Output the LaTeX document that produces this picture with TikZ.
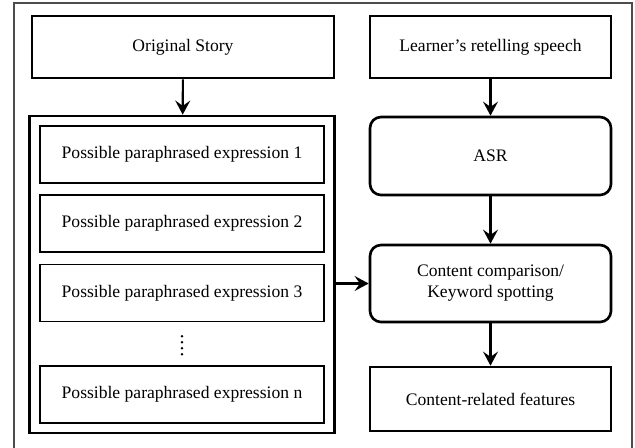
\documentclass[tikz,border=0pt]{standalone}
\usepackage{fontspec}
\setmainfont{Liberation Serif}
\usepackage{tikz}
\usetikzlibrary{calc}
\usetikzlibrary{positioning, fit, arrows.meta}

\begin{document}
\begin{tikzpicture}[>={Stealth[length=8pt,width=8.5pt,inset=3pt]}, font=\fontsize{10}{12}\selectfont]
                        % Page frame (open at the bottom)
                        \useasboundingbox (0,0) rectangle (12.7,-8.94);
                        \draw[black!70, line width=0.6pt] (0.28,-9.3) -- (0.28,-0.06) -- (12.64,-0.06) -- (12.64,-9.3);

                        % Left column: story and its paraphrases
                        \node[draw, line width=1.5pt, minimum width=6.04cm, minimum height=1.24cm] (story) at (3.66,-0.94) {Original Story};
                        \node[draw, line width=0.6pt, minimum width=5.68cm, minimum height=1.14cm] (para1) at (3.64,-3.09) {Possible paraphrased expression 1};
                        \node[draw, line width=0.6pt, minimum width=5.68cm, minimum height=1.14cm] (para2) at (3.64,-4.47) {Possible paraphrased expression 2};
                        \node[draw, line width=0.6pt, minimum width=5.68cm, minimum height=1.14cm] (para3) at (3.64,-5.86) {Possible paraphrased expression 3};
                        \node[inner sep=0pt, minimum size=0.4cm] (dots) at (3.64,-6.89) {};
                        \foreach \k in {0,1,2,3}
                            \fill ($(dots.north)+(0,-0.04-0.12*\k)$) circle (0.028);
                        \node[draw, line width=0.6pt, minimum width=5.68cm, minimum height=1.14cm] (paran) at (3.64,-7.89) {Possible paraphrased expression n};

                        \node[draw, line width=1.5pt, fit=(para1) (paran), inner xsep=0.2cm, inner ysep=0.19cm] (paras) {};

                        % Right column: speech processing
                        \node[draw, line width=1.5pt, minimum width=4.82cm, minimum height=1.24cm] (speech) at (9.81,-0.94) {Learner's retelling speech};
                        \node[draw, line width=1.5pt, rounded corners=0.22cm, minimum width=4.82cm, minimum height=1.56cm] (asr) at (9.81,-3.12) {ASR};
                        \node[draw, line width=1.5pt, rounded corners=0.22cm, minimum width=4.82cm, minimum height=1.54cm, align=center] (compare) at (9.81,-5.67) {Content comparison/\\Keyword spotting};
                        \node[draw, line width=1.5pt, minimum width=4.82cm, minimum height=1.28cm] (features) at (9.81,-7.98) {Content-related features};

                        % Arrows
                        \draw[->, line width=1.2pt] (story) -- (paras);
                        \draw[->, line width=1.2pt] (speech) -- (asr);
                        \draw[->, line width=1.2pt] (asr) -- (compare);
                        \draw[->, line width=1.2pt] (compare) -- (features);
                        \draw[->, line width=1.2pt] (paras.east |- compare) -- (compare);

                    \end{tikzpicture}
\end{document}
